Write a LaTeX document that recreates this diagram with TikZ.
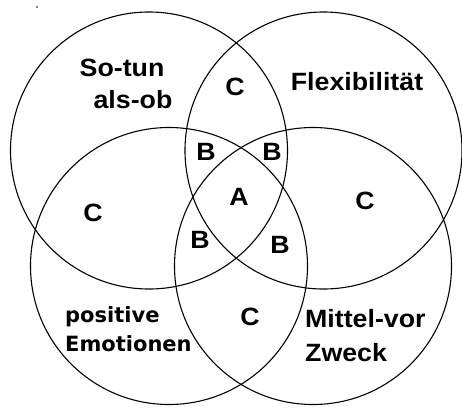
\documentclass[tikz,border=0pt]{standalone}
\usepackage{fontspec}
\newfontfamily\labfont{Liberation Sans}[FakeStretch=1.07]
\newfontfamily\verdfont{DejaVu Sans}
\tikzset{
  venn/.style={draw=black, line width=1.1pt},
  lab/.style={font=\labfont\bfseries\fontsize{25}{28}\selectfont, anchor=base, inner sep=0pt},
  labv/.style={font=\verdfont\bfseries\fontsize{21}{24}\selectfont, anchor=base west, inner sep=0pt},
  labw/.style={font=\labfont\bfseries\fontsize{25}{28}\selectfont, anchor=base west, inner sep=0pt}
}
\begin{document}
\begin{tikzpicture}[x=1pt,y=-1pt]
\useasboundingbox (0,0) rectangle (462,408);
\coordinate (c1) at (149,150.5);
\coordinate (c2) at (323.5,150.5);
\coordinate (c3) at (169,266);
\coordinate (c4) at (313,266);
\draw[venn] (c1) circle[radius=138.5pt];
\draw[venn] (c2) circle[radius=138.5pt];
\draw[venn] (c3) circle[radius=138.5pt];
\draw[venn] (c4) circle[radius=138.5pt];
\fill[black] (37,7) circle[radius=0.8pt];
% region labels
\node[lab] (so1) at (122,76) {So-tun};
\node[lab] (so2) at (133,108) {als-ob};
\node[lab] (flex) at (357,90) {Flexibilität};
\node[labv] (pos1) at (65,322) {positive};
\node[labv] (pos2) at (65,351) {Emotionen};
\node[labw] (mit1) at (305,327) {Mittel-vor};
\node[labw] (mit2) at (305,361) {Zweck};
% intersection labels
\node[lab] (ctop) at (235,95) {C};
\node[lab] (b1) at (206,160) {B};
\node[lab] (b2) at (272,160) {B};
\node[lab] (a) at (239,205) {A};
\node[lab] (b3) at (200,248) {B};
\node[lab] (b4) at (280,253) {B};
\node[lab] (cleft) at (93,221) {C};
\node[lab] (cright) at (365,209) {C};
\node[lab] (cbot) at (250,325) {C};
\end{tikzpicture}
\end{document}
